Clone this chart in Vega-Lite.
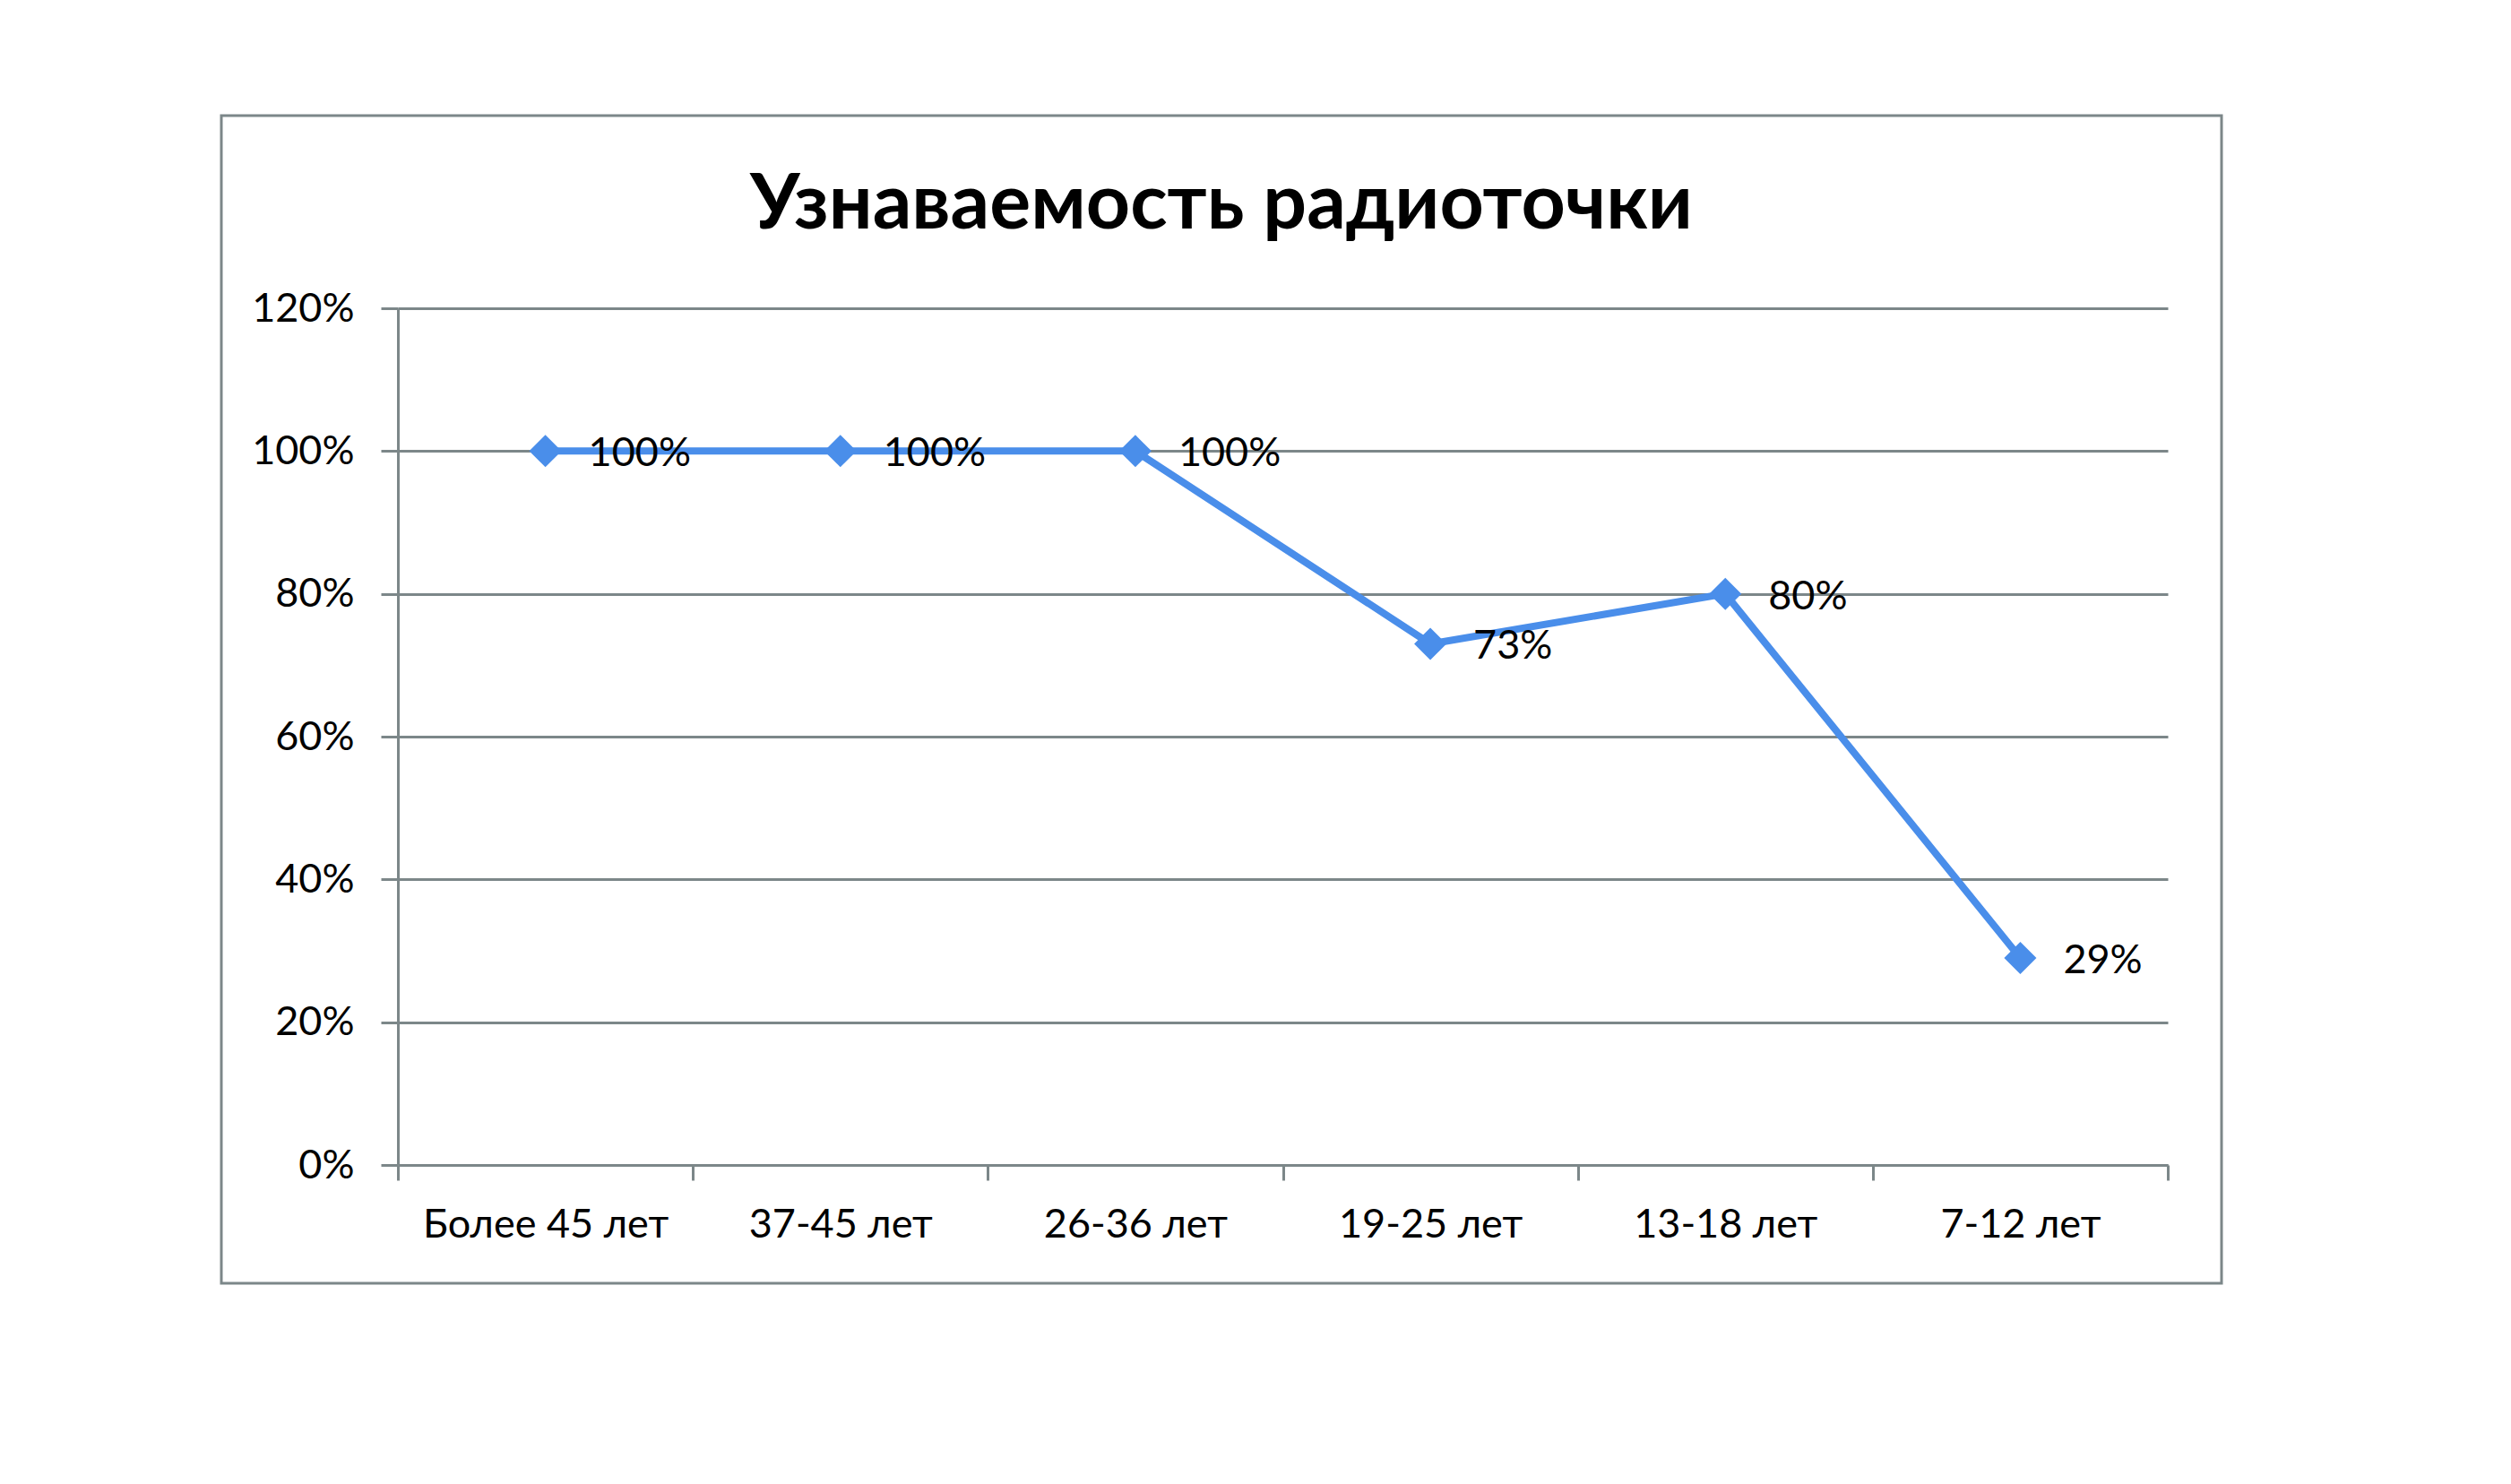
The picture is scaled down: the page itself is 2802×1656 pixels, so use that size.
{
  "$schema": "https://vega.github.io/schema/vega-lite/v6.json",
  "width": 1975,
  "height": 956,
  "autosize": {"type": "none"},
  "padding": {"left": 444, "top": 344, "right": 383, "bottom": 356},
  "background": "white",
  "title": {
    "text": "Узнаваемость радиоточки",
    "font": "Lato",
    "fontSize": 86,
    "fontWeight": "bold",
    "color": "#000000",
    "anchor": "middle",
    "frame": "bounds",
    "offset": -145
  },
  "data": {
    "values": [
      {"group": "Более 45 лет", "share": 1.0},
      {"group": "37-45 лет", "share": 1.0},
      {"group": "26-36 лет", "share": 1.0},
      {"group": "19-25 лет", "share": 0.73},
      {"group": "13-18 лет", "share": 0.8},
      {"group": "7-12 лет", "share": 0.29}
    ]
  },
  "encoding": {
    "x": {
      "field": "group",
      "type": "nominal",
      "sort": null,
      "bandPosition": 0.5,
      "scale": {"type": "band", "paddingInner": 0, "paddingOuter": 0},
      "axis": {
        "title": null,
        "labelAngle": 0,
        "labelLimit": 0,
        "tickBand": "extent",
        "tickSize": 17,
        "labelPadding": 27,
        "grid": false
      }
    },
    "y": {
      "field": "share",
      "type": "quantitative",
      "scale": {"domain": [0, 1.2], "nice": false, "zero": true},
      "axis": {
        "title": null,
        "values": [0, 0.2, 0.4, 0.6, 0.8, 1.0, 1.2],
        "format": ".0%",
        "tickSize": 19,
        "labelPadding": 30,
        "grid": true
      }
    }
  },
  "layer": [
    {
      "data": {"values": [{"frame": "border"}]},
      "mark": {"type": "rect", "fill": null, "stroke": "#7c8789", "strokeWidth": 3},
      "encoding": {
        "x": {"value": -197},
        "x2": {"value": 2035},
        "y": {"value": -215},
        "y2": {"value": 1088}
      }
    },
    {
      "mark": {
        "type": "line",
        "color": "#4a8eea",
        "strokeWidth": 8,
        "point": {"shape": "diamond", "size": 1300, "filled": true, "color": "#4a8eea", "opacity": 1}
      }
    },
    {
      "mark": {
        "type": "text",
        "align": "left",
        "baseline": "middle",
        "dx": 48,
        "dy": 3,
        "font": "Lato",
        "fontSize": 45,
        "color": "#000000"
      },
      "encoding": {
        "text": {"field": "share", "type": "quantitative", "format": ".0%"}
      }
    }
  ],
  "config": {
    "view": {"stroke": null},
    "axis": {
      "labelFont": "Lato",
      "labelFontSize": 45,
      "labelColor": "#000000",
      "domainColor": "#7c8789",
      "domainWidth": 3,
      "tickColor": "#7c8789",
      "tickWidth": 3,
      "gridColor": "#7c8789",
      "gridWidth": 3
    }
  }
}
